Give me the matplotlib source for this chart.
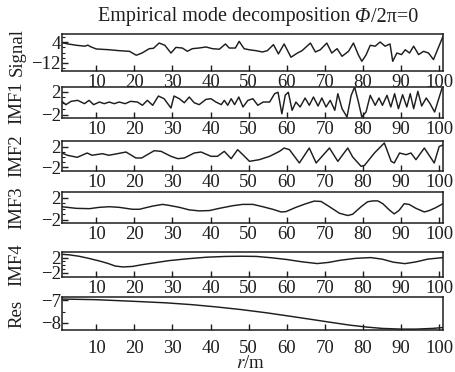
import matplotlib
matplotlib.use("Agg")
import matplotlib.pyplot as plt
from matplotlib.ticker import FixedLocator

plt.rcParams["font.family"] = ["Liberation Serif", "DejaVu Serif"]
plt.rcParams["mathtext.fontset"] = "stix"
plt.rcParams["font.size"] = 13.5

# position along the profile (m) and component value, read per vertex
signal_pts = [(1, 3.5), (2.6, 2.5), (4.8, 1.5), (7, 0.8), (7.8, 1.6), (8.5, 0.4),
              (10, -1.3), (13.4, -1.9), (16, -2.6), (18.7, -3.1), (20.5, -6.1),
              (22, -4.4), (23.9, -1.1), (25, -0.8), (26.5, 3.2), (28, 1.5),
              (29.6, -4.4), (30.9, -0.1), (32.6, -0.6), (33.9, -3.1), (35.2, -1.1),
              (36.9, -0.6), (38.8, 0.2), (40.5, -1.1), (42.3, -1.5), (43.9, 2.5),
              (44.9, -0.6), (46.5, -0.6), (47.5, 4.5), (48.8, -1.1), (50.1, -1.9),
              (51.9, -2.6), (53.6, -3.6), (54.9, -2.6), (56.5, 2.0), (57.8, -5.1),
              (59.3, 2.5), (61.1, -7.6), (62.8, -4.4), (64, -2.6), (66.2, 3.2),
              (67.5, -3.6), (68.8, -1.9), (70.5, 3.2), (71.8, -4.4), (73.2, -1.1),
              (74.5, -6.9), (76.2, -3.1), (77.5, 3.2), (78.8, -5.9), (79.7, -10.7),
              (80.8, -5.9), (81.9, 1.5), (83.2, 0.8), (84.5, 4.0), (85.8, 0.8),
              (87.1, 2.5), (87.8, -10.7), (88.9, -4.4), (90.1, -5.6), (91.1, -1.9),
              (92.2, -4.4), (93.3, 0.8), (94.6, -5.6), (95.9, -3.1), (97.2, -4.4),
              (98.5, -9.4), (101, 8.3)]

imf1_pts = [(1, 0.34), (2, -0.24), (3.4, 0.34), (5.1, 0.51), (6.9, -0.06), (8.1, 0.51),
            (9.3, -0.23), (10.8, 0.22), (12.1, -0.06), (13.4, 0.22), (14.7, -0.06),
            (16, 0.22), (17.6, -0.06), (19, 0.34), (20.8, 0.22), (22.1, -0.34),
            (23.4, 0.51), (24.8, -0.34), (26.3, 1.25), (27.8, 0.79), (29.6, -0.81),
            (30.4, 1.25), (31.8, 0.79), (33.1, 0.1), (34.4, 1.08), (35.7, 0.1),
            (37, -0.23), (38.8, 0.68), (40.1, 0.79), (41.4, 0.22), (42.8, -0.23),
            (43.6, 0.51), (44.5, -0.34), (45.4, 0.79), (46.3, -0.23), (47.4, 1.08),
            (48.5, -0.63), (49.8, 0.51), (51.1, 0.79), (52.4, -0.34), (53.8, 0.22),
            (55.5, 0.22), (56.8, 1.65), (57.7, 1.9), (58.7, -1.8), (59.6, 1.4),
            (60.4, 1.9), (61.4, -1.2), (62.4, 0.22), (63.5, -0.63), (64.8, 0.91),
            (65.9, -0.34), (67, 1.08), (68.2, -0.46), (69.2, 0.91), (70.3, -0.63),
            (71.4, 0.51), (72.6, -1.2), (73.4, 1.65), (74.5, -0.92), (75.8, -2.35),
            (76.9, 1.37), (77.8, 2.8), (78.8, 0.22), (79.7, -2.35), (80.8, -1.49),
            (81.9, 1.37), (83.2, -0.34), (84.2, 0.91), (85.1, -0.34), (86.3, 1.37),
            (87.3, -0.63), (88.3, 1.65), (89.3, -0.92), (90.4, 1.48), (91.5, -0.63),
            (92.4, 1.65), (93.3, -0.92), (94.4, 2.06), (95.4, -0.46), (96.6, 0.91),
            (97.6, -0.06), (98.8, -1.49), (100.7, 2.5)]

imf2_pts = [(1, 0.76), (2.4, 0.33), (5, -0.06), (7.6, 0.76), (8.9, 0.33), (11.6, 0.63),
            (13.3, 0.33), (15.1, 0.57), (17.8, 0.95), (20.4, -0.19), (21.9, -0.19),
            (25.2, 1.2), (27, 1.08), (29.6, 0.13), (31.4, -0.32), (33.1, -0.19),
            (35.7, 0.76), (37.5, 0.95), (40.1, 0.13), (41.8, 0.13), (43.6, 1.08),
            (45.4, -0.32), (47.1, 1.4), (48.9, 0.13), (50.2, -0.83), (52.8, -0.51),
            (55.5, 0.13), (58.1, 1.08), (59.3, 1.71), (60.7, 1.4), (63.3, -1.14),
            (65.9, 1.71), (67.7, -1.14), (71.2, 1.71), (73.4, -0.83), (76, 1.71),
            (77.3, 0.0), (79.5, -1.78), (80.4, -1.6), (83, 0.76), (85.6, 2.67),
            (87.4, -0.83), (88.2, -1.14), (89.6, 0.76), (91.3, 0.44), (92.6, 0.76),
            (93.9, -0.51), (96.1, 1.71), (98.7, -1.14), (100, 2.0), (101, 2.3)]

imf3_pts = [(1, 0.35), (4.7, 0.06), (8.2, 0.0), (10.8, 0.24), (13.4, 0.35), (16, 0.24),
            (19.5, -0.11), (21.3, -0.11), (24.8, 0.47), (27.4, 0.77), (29.1, 0.59),
            (31.8, 0.24), (34.4, -0.22), (37, -0.4), (39.7, -0.34), (42.3, 0.06),
            (45.8, 0.53), (48.4, 0.77), (51.1, 0.77), (53.7, 0.35), (56.3, -0.11),
            (58.5, -0.59), (59.8, -0.53), (62.4, 0.24), (65, 0.89), (67.2, 1.36),
            (69, 1.3), (71.2, 0.35), (73.8, -0.82), (76, -1.23), (77.3, -1.0),
            (79.5, 0.35), (81.2, 1.24), (82.6, 1.4), (83.9, 1.4), (85.2, 0.89),
            (87, -0.29), (88.2, -0.94), (89.5, -0.29), (90.8, 0.89), (92.1, 0.77),
            (93.9, 0.06), (96.1, -0.59), (97.4, -0.34), (99.1, 0.18), (101, 0.9)]

imf4_pts = [(1, 2.86), (3, 2.7), (5.5, 2.34), (8, 1.8), (10.8, 1.12), (13, 0.5),
            (15, -0.2), (17, -0.43), (19.5, -0.3), (22, 0.15), (25, 0.6), (29, 1.2),
            (34, 1.7), (39, 2.1), (44, 2.3), (48, 2.35), (52, 2.3), (56, 1.95),
            (60, 1.5), (64, 0.9), (68, 0.45), (71, 0.75), (74, 1.3), (78, 1.8),
            (82, 2.0), (85, 1.6), (88, 0.8), (91, 0.43), (94, 0.9), (97, 1.6),
            (101, 2.0)]

res_pts = [(1, -6.94), (10, -6.97), (19.5, -7.04), (28.3, -7.11), (35, -7.19),
           (41.4, -7.29), (48, -7.41), (54.5, -7.55), (61, -7.71), (67.7, -7.88),
           (72, -7.99), (76.4, -8.1), (81, -8.19), (85.1, -8.25), (90, -8.28),
           (93.9, -8.28), (98.2, -8.25), (101, -8.21)]

names = ["Signal", "IMF1", "IMF2", "IMF3", "IMF4", "Res"]
series = [signal_pts, imf1_pts, imf2_pts, imf3_pts, imf4_pts, res_pts]
y_limits = [(-18.1, 10.1), (-2.52, 2.8), (-2.67, 3.05), (-2.58, 3.0), (-3.04, 3.45), (-8.32, -6.85)]
y_major = [[-12, 4], [-2, 2], [-2, 2], [-2, 2], [-2, 2], [-8, -7]]
y_minor = [[-16, -8, -4, 0, 8], [-1, 0, 1], [-1, 0, 1], [-1, 0, 1], [-1, 0, 1], [-7.5]]

# panel rows in pixels (top, bottom) on a 456 x 372 canvas
W, H = 456, 372
rows = [(34, 71), (87, 118), (141, 171), (192, 223), (252, 277), (297, 330)]
left, right = 62, 443

fig = plt.figure(figsize=(W / 100, H / 100), dpi=100)
ink = "#1e1e1e"

for i, (name, pts) in enumerate(zip(names, series)):
    top, bot = rows[i]
    ax = fig.add_axes([left / W, 1 - bot / H, (right - left) / W, (bot - top) / H])
    xs, ys = zip(*pts)
    ax.plot(xs, ys, color=ink, lw=1.05)
    ax.set_xlim(1, 101)
    ax.set_ylim(*y_limits[i])
    ax.xaxis.set_major_locator(FixedLocator(range(10, 101, 10)))
    ax.yaxis.set_major_locator(FixedLocator(y_major[i]))
    ax.yaxis.set_minor_locator(FixedLocator(y_minor[i]))
    ax.xaxis.set_minor_locator(FixedLocator([]))
    ax.tick_params(axis="both", which="both", direction="in", color=ink,
                   top=False, right=False, labelcolor=ink)
    ax.tick_params(axis="x", which="major", length=4, width=1.0,
                   pad=7 if i == len(names) - 1 else 2)
    ax.tick_params(axis="y", which="major", length=4, width=1.0, pad=1)
    ax.tick_params(axis="y", which="minor", length=2.5, width=0.8)
    for sp in ax.spines.values():
        sp.set_linewidth(1.1)
        sp.set_color(ink)
    fig.text(17 / W, 1 - (top + bot) / 2 / H, name, rotation=90,
             ha="center", va="center", color=ink)

# title built from pieces so the phase symbol can be italic
title_parts = [("Empirical mode decomposition", "normal", 5),
               ("Φ", "italic", 0),
               ("/2π=0", "normal", 0)]
title_size = 14.5
renderer = fig.canvas.get_renderer()
pieces = []
for txt, style, gap in title_parts:
    t = fig.text(0, 1 - 17 / H, txt, style=style, fontsize=title_size,
                 ha="left", va="center", color=ink)
    pieces.append((t, t.get_window_extent(renderer).width, gap))
total = sum(w + g for _, w, g in pieces)
x0 = 258 - total / 2
for t, w, g in pieces:
    t.set_x(x0 / W)
    x0 += w + g

fig.text(250 / W, 1 - 364 / H, r"$\mathit{r}$/m", ha="center", va="center", color=ink)

fig.savefig("out.png", dpi=100)
